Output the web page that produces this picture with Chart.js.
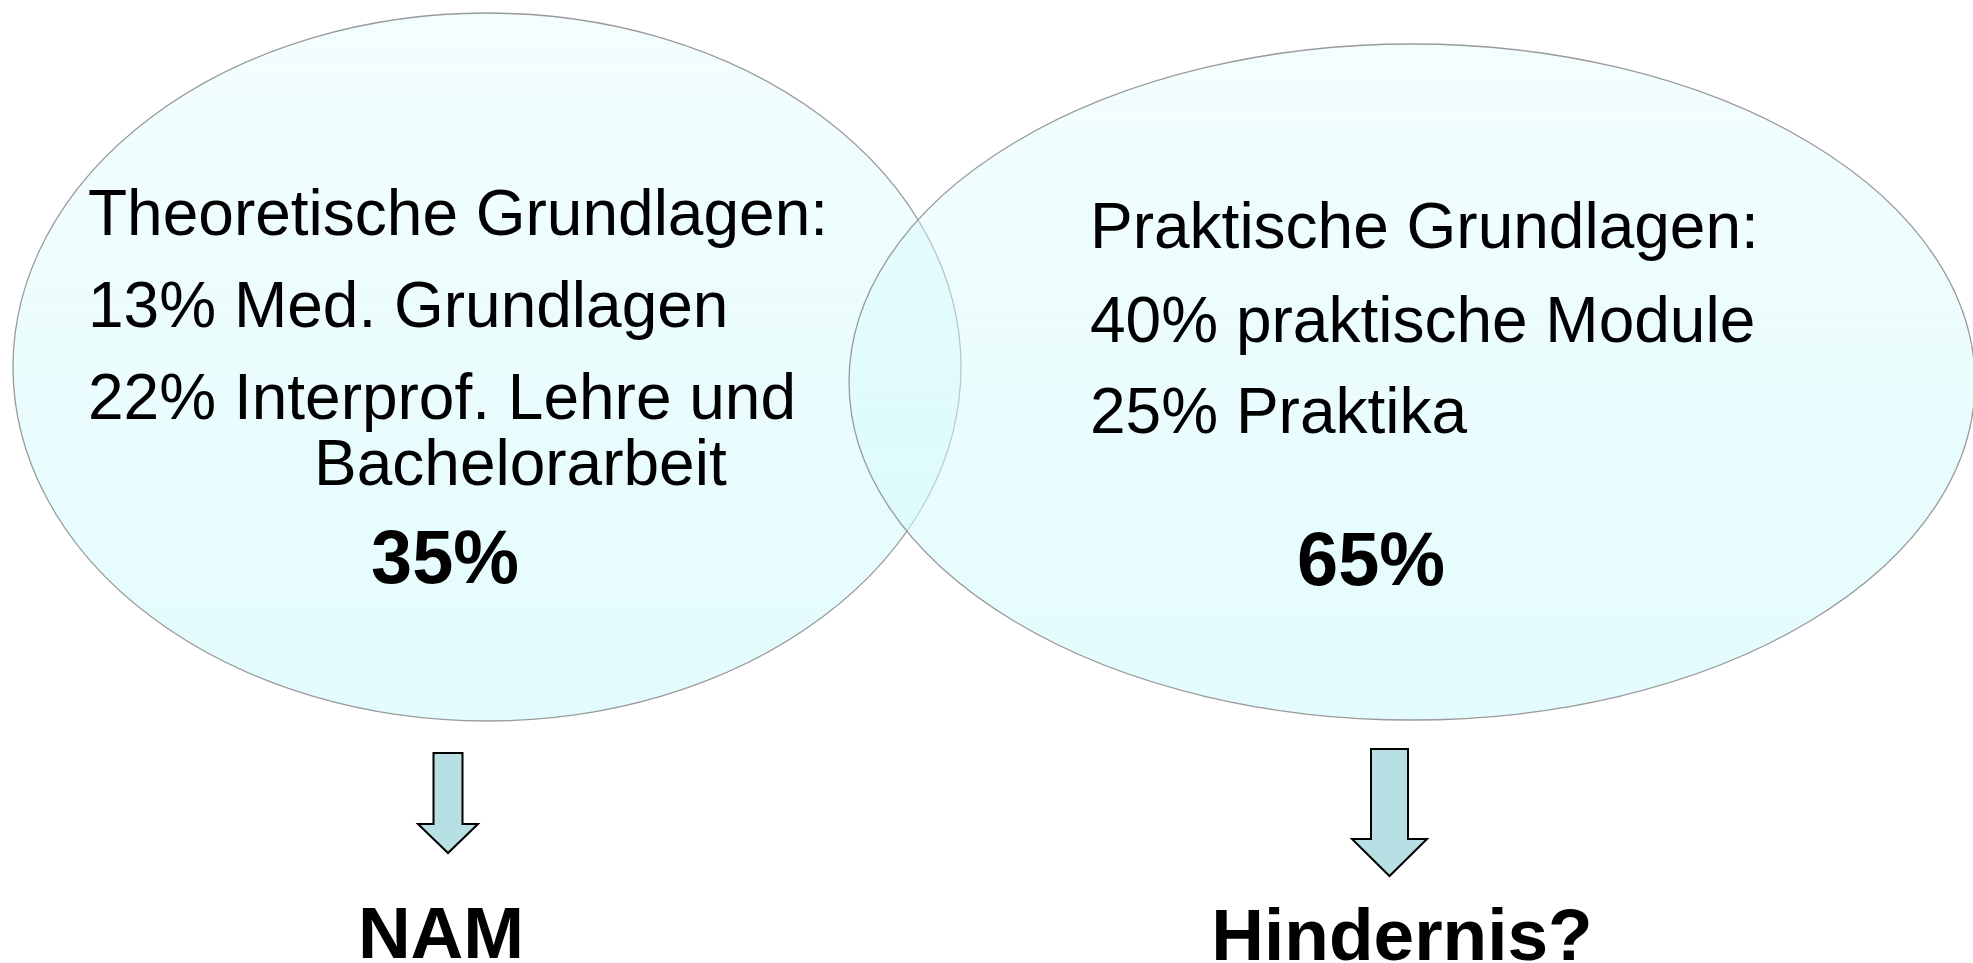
<!DOCTYPE html>
<html>
<head>
<meta charset="utf-8">
<script src="https://cdn.jsdelivr.net/npm/chart.js@4/dist/chart.umd.min.js"></script>
<style>
  html, body { margin: 0; padding: 0; background: #fff; overflow: hidden; }
</style>
</head>
<body>
<canvas id="venn" width="1973" height="963"></canvas>
<script>
// Daten
const groupTitles = ['Theoretische Grundlagen:', 'Praktische Grundlagen:'];
const groupShares = [35, 65];
const theoryLabels = ['Med. Grundlagen', 'Interprof. Lehre und\nBachelorarbeit'];
const theoryShares = [13, 22];
const practiceLabels = ['praktische Module', 'Praktika'];
const practiceShares = [40, 25];
const outcomes = ['NAM', 'Hindernis?'];

// Layout (Pixelkoordinaten der Zeichenfläche, laufen über die Achsen)
const ellipses = [
  { cx: 487, cy: 367, rx: 474, ry: 354 },
  { cx: 1412, cy: 382, rx: 563, ry: 338 }
];
const arrows = [
  { x: 448, top: 753, head: 824, tip: 853, shaft: 14.5, wing: 30 },
  { x: 1389.5, top: 749, head: 839, tip: 876, shaft: 18.5, wing: 37.5 }
];
const textBlocks = [
  { x: 88, title: 235, lines: [327, 419], wrapX: 314, wrapGap: 66, share: [445, 583], outcome: [441, 958] },
  { x: 1090, title: 248, lines: [342, 433], wrapX: 0, wrapGap: 0, share: [1371, 585], outcome: [1402, 960] }
];

const FONT = '"Liberation Sans", Arial, Helvetica, sans-serif';

// Ellipsen zeichnen
const vennPlugin = {
  id: 'venn',
  beforeDatasetsDraw(chart) {
    const { ctx, scales: { x, y } } = chart;
    const meta = chart.getDatasetMeta(0);
    meta.data.forEach((pt, i) => {
      const e = ellipses[i];
      const rx = x.getPixelForValue(e.cx + e.rx) - pt.x;
      const ry = y.getPixelForValue(e.cy + e.ry) - pt.y;
      const grad = ctx.createLinearGradient(0, pt.y - ry, 0, pt.y + ry);
      grad.addColorStop(0, 'rgba(215, 250, 252, 0.3)');
      grad.addColorStop(1, 'rgba(215, 250, 252, 0.7)');
      ctx.save();
      ctx.beginPath();
      ctx.ellipse(pt.x, pt.y, rx, ry, 0, 0, Math.PI * 2);
      ctx.fillStyle = grad;
      ctx.fill();
      ctx.strokeStyle = '#9a9a9a';
      ctx.lineWidth = 1.3;
      ctx.stroke();
      ctx.restore();
    });
  },
  afterDatasetsDraw(chart) {
    const { ctx, scales: { x, y } } = chart;
    const meta = chart.getDatasetMeta(1);
    meta.data.forEach((pt, i) => {
      const a = arrows[i];
      const top = y.getPixelForValue(a.top);
      const head = y.getPixelForValue(a.head);
      ctx.save();
      ctx.beginPath();
      ctx.moveTo(pt.x - a.shaft, top);
      ctx.lineTo(pt.x + a.shaft, top);
      ctx.lineTo(pt.x + a.shaft, head);
      ctx.lineTo(pt.x + a.wing, head);
      ctx.lineTo(pt.x, pt.y);
      ctx.lineTo(pt.x - a.wing, head);
      ctx.lineTo(pt.x - a.shaft, head);
      ctx.closePath();
      ctx.fillStyle = '#b8dfe3';
      ctx.fill();
      ctx.strokeStyle = '#000';
      ctx.lineWidth = 2;
      ctx.lineJoin = 'miter';
      ctx.stroke();
      ctx.restore();
    });
  },
  afterDraw(chart) {
    const { ctx, scales: { x, y } } = chart;
    const px = v => x.getPixelForValue(v);
    const py = v => y.getPixelForValue(v);
    const itemSets = [
      theoryLabels.map((l, i) => `${theoryShares[i]}% ${l}`),
      practiceLabels.map((l, i) => `${practiceShares[i]}% ${l}`)
    ];
    ctx.save();
    ctx.fillStyle = '#000';
    ctx.textBaseline = 'alphabetic';
    textBlocks.forEach((b, g) => {
      ctx.textAlign = 'left';
      ctx.font = `64px ${FONT}`;
      ctx.fillText(groupTitles[g], px(b.x), py(b.title));
      itemSets[g].forEach((item, i) => {
        const parts = item.split('\n');
        ctx.fillText(parts[0], px(b.x), py(b.lines[i]));
        if (parts[1]) ctx.fillText(parts[1], px(b.wrapX), py(b.lines[i] + b.wrapGap));
      });
      ctx.textAlign = 'center';
      ctx.font = `bold 76px ${FONT}`;
      ctx.fillText(`${groupShares[g]}%`, px(b.share[0]), py(b.share[1]), 148);
      ctx.font = `bold 73px ${FONT}`;
      ctx.fillText(outcomes[g], px(b.outcome[0]), py(b.outcome[1]));
    });
    ctx.restore();
  }
};

new Chart(document.getElementById('venn'), {
  type: 'scatter',
  data: {
    datasets: [
      { label: 'Bereiche', data: ellipses.map(e => ({ x: e.cx, y: e.cy })), pointRadius: 0 },
      { label: 'Pfeile', data: arrows.map(a => ({ x: a.x, y: a.tip })), pointRadius: 0 }
    ]
  },
  plugins: [vennPlugin],
  options: {
    responsive: false,
    animation: false,
    events: [],
    layout: { padding: 0 },
    plugins: { legend: { display: false }, tooltip: { enabled: false } },
    scales: {
      x: { type: 'linear', min: 0, max: 1973, display: false },
      y: { type: 'linear', min: 0, max: 963, reverse: true, display: false }
    }
  }
});
</script>
</body>
</html>
